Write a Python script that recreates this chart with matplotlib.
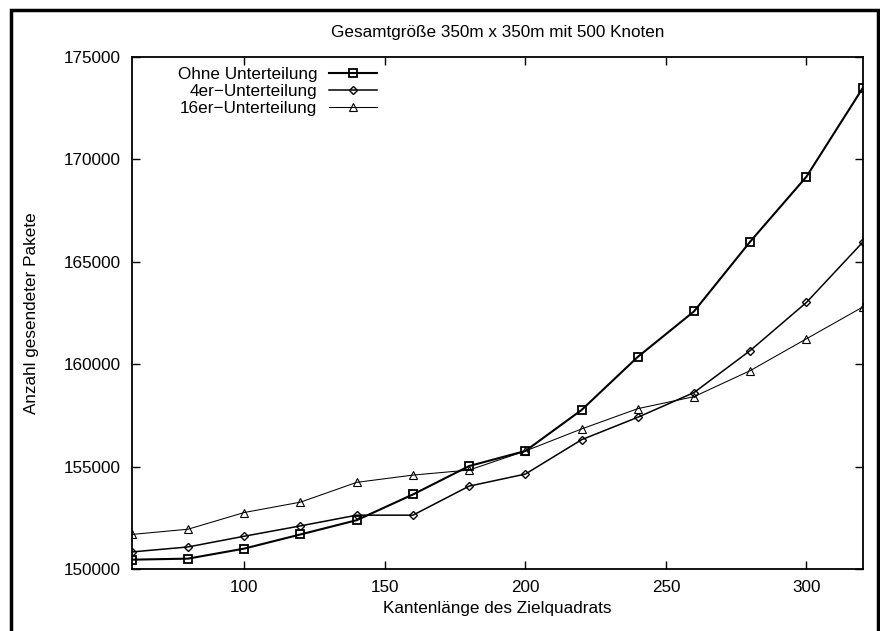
import matplotlib
matplotlib.use("Agg")
import matplotlib.pyplot as plt
from matplotlib.patches import Rectangle

plt.rcParams['font.family'] = ['Liberation Sans', 'DejaVu Sans']

x = [60, 80, 100, 120, 140, 160, 180, 200, 220, 240, 260, 280, 300, 320]
ohne = [150470, 150520, 151010, 151700, 152395, 153650, 155035, 155770,
        157770, 160360, 162580, 165985, 169150, 173470]
vier = [150846, 151090, 151613, 152117, 152640, 152640, 154057, 154644,
        156320, 157415, 158620, 160670, 163017, 165950]
sechzehn = [151700, 151955, 152770, 153275, 154240, 154595, 154840, 155770,
            156845, 157835, 158420, 159690, 161243, 162790]
labels = ["Ohne Unterteilung", "4er\u2212Unterteilung", "16er\u2212Unterteilung"]
title = "Gesamtgr\u00f6\u00dfe 350m x 350m mit 500 Knoten"
xlabel = "Kantenl\u00e4nge des Zielquadrats"
ylabel = "Anzahl gesendeter Pakete"
xticks = [100, 150, 200, 250, 300]
yticks = [150000, 155000, 160000, 165000, 170000, 175000]

fig = plt.figure(figsize=(8.8, 6.31), dpi=100)
ax = fig.add_axes([131.8/880, 1 - 569.3/631, (862.7-131.8)/880, (569.3-56.7)/631])

ax.plot(x, ohne, color='black', lw=1.5, marker='s', ms=6, mfc='none', mew=1.3, label=labels[0])
ax.plot(x, vier, color='black', lw=1.1, marker='D', ms=4.3, mfc='none', mew=1.0, label=labels[1])
ax.plot(x, sechzehn, color='black', lw=0.75, marker='^', ms=5.5, mfc='none', mew=0.8, label=labels[2])

ax.set_xlim(60, 320)
ax.set_ylim(150000, 175000)
ax.set_xticks(xticks)
ax.set_yticks(yticks)
ax.tick_params(direction='in', length=6, width=1.0, top=True, right=True,
               labelsize=12.3, colors='black')
ax.tick_params(axis='x', pad=8)
ax.tick_params(axis='y', pad=8)
for s in ax.spines.values():
    s.set_linewidth(1.3)

fig.text((131.8 + 862.7) / 2 / 880, 1 - 32/631, title, ha='center', va='center', fontsize=12.3)
ax.set_xlabel(xlabel, fontsize=12.3, labelpad=4)
ax.set_ylabel(ylabel, fontsize=12.3, labelpad=18)

leg = ax.legend(loc='upper left', bbox_to_anchor=(0.042, 1.01), frameon=False,
                markerfirst=False, fontsize=12.3, handlelength=2.8,
                labelspacing=0.12, handletextpad=0.7, borderaxespad=0.5)

fig.patches.append(Rectangle((11/880, -0.05), (878-11)/880, 1.05 - 10/631,
                             transform=fig.transFigure, fill=False,
                             edgecolor='black', lw=2.5))

fig.savefig("out.png", dpi=100)
